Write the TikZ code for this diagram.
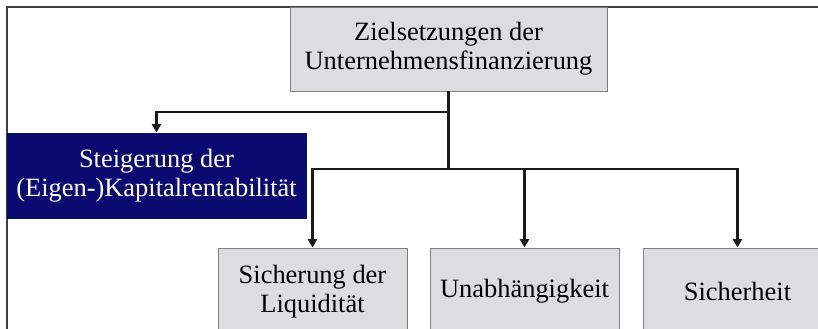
\documentclass[tikz,border=0pt]{standalone}
\usepackage{fontspec}
\setmainfont{Liberation Serif}
\usetikzlibrary{arrows.meta}
\definecolor{boxgray}{HTML}{DCDDDE}
\definecolor{boxline}{HTML}{7F7F7F}
\definecolor{navy}{HTML}{0A0A70}
\tikzset{
  goal/.style={draw=boxline, fill=boxgray, line width=0.7pt, align=center,
    inner sep=0pt, font=\fontsize{18.8}{20.4}\selectfont},
  main/.style={goal, draw=navy, fill=navy, text=white},
  lower/.style={goal, minimum width=189*0.025cm, minimum height=87*0.025cm},
  link/.style={draw=black!90, line width=1.7pt},
  arr/.style={link, -{Triangle[width=6.5pt,length=6pt]}},
}
\begin{document}
\begin{tikzpicture}[x=0.025cm, y=-0.025cm]
  \path[use as bounding box, clip] (0,0) rectangle (818,329);
  \fill[white] (0,0) rectangle (818,329);
  % frame
  \draw[line width=0.8pt, black!75] (7,340) -- (7,7) -- (830,7);

  \node[goal, minimum width=317*0.025cm, minimum height=84*0.025cm] (ziel) at (448.5,49)
    {Zielsetzungen der\\Unternehmensfinanzierung};
  \node[main, minimum width=299*0.025cm, minimum height=85*0.025cm] (rent) at (156.5,175.5)
    {Steigerung der\\(Eigen-)Kapitalrentabilität};
  \node[lower] (liq) at (312.5,291.5) {Sicherung der\\Liquidität};
  \node[lower] (unab) at (524.5,291.5) {Unabhängigkeit};
  \node[lower] (sich) at (737.5,291.5) {Sicherheit};

  \coordinate (upper) at (448.5,112);
  \coordinate (fork) at (448.5,169);
  \draw[link] (ziel.south) -- (fork);
  \draw[arr] (upper) -| (rent.north);
  \foreach \n in {liq,unab,sich}
    \draw[arr] (fork) -| (\n.north);
\end{tikzpicture}
\end{document}
